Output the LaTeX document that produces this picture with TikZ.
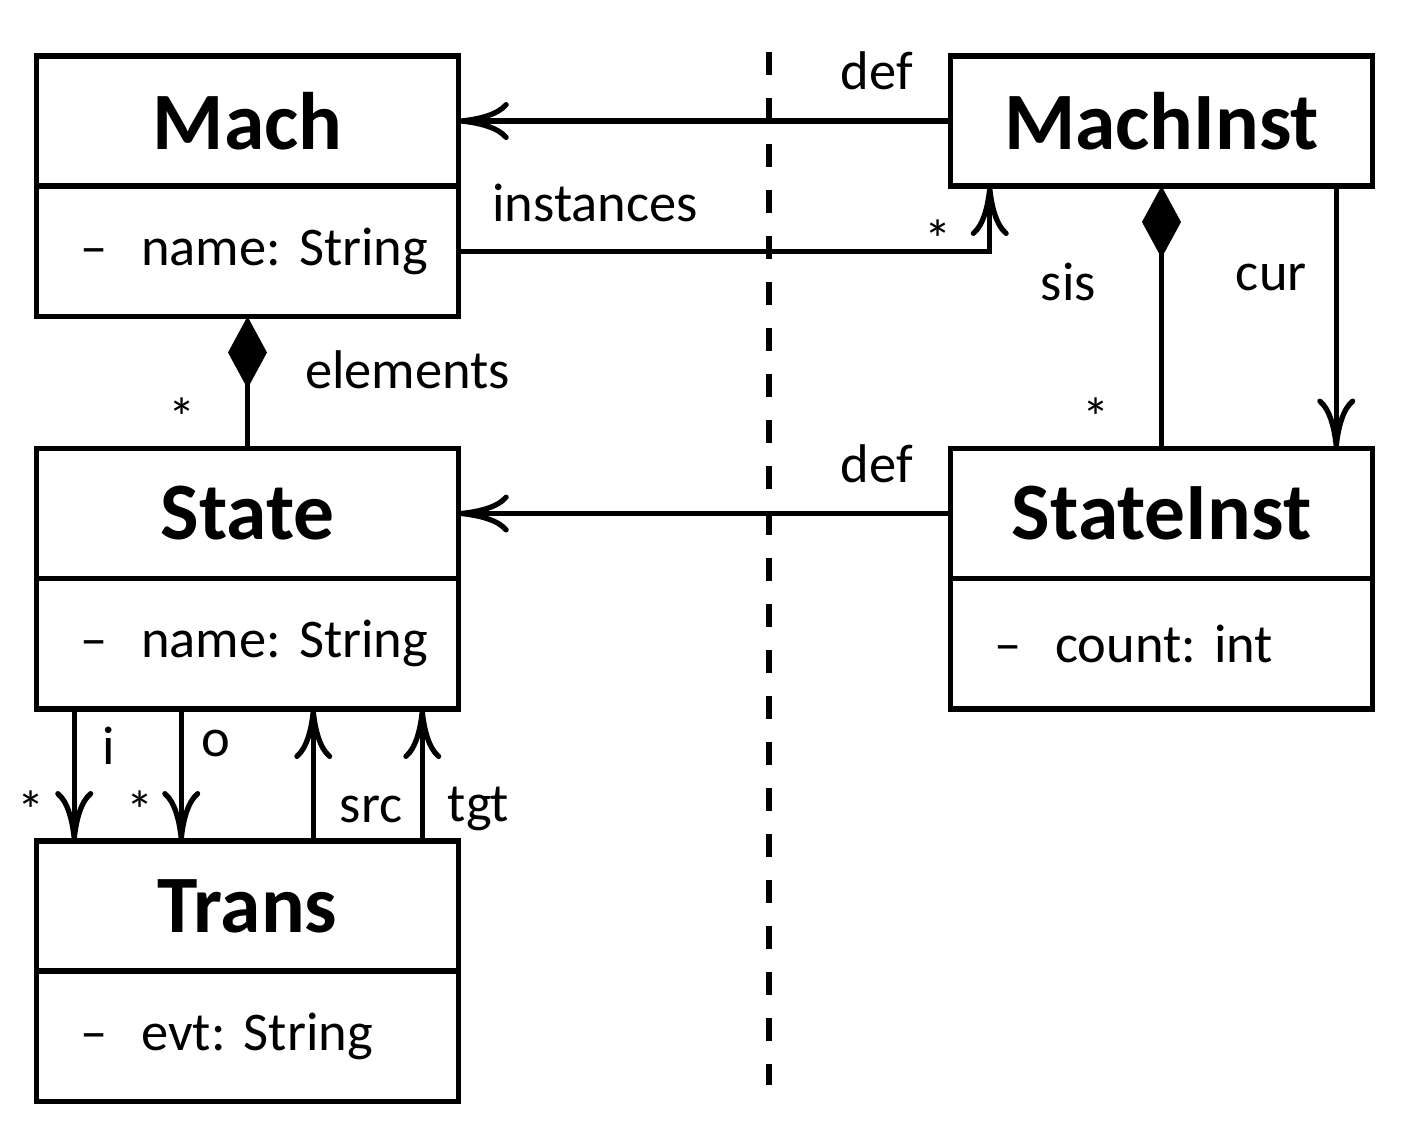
\documentclass[tikz,border=0pt]{standalone}
\usepackage{fontspec}
\setmainfont{Carlito}
\usepackage{tikz}
\usetikzlibrary{positioning,arrows.meta}

\frenchspacing
\newcommand{\vis}[1]{\mbox{--\hspace{0.62em}#1}}

\begin{document}
\begin{tikzpicture}[
node distance=1.32cm,
classbox/.style={
    rectangle,
    minimum width=4.225cm,
    minimum height=1.3cm,
    draw=black,
    line width=1.5pt,
    outer sep=0pt,
    font=\fontsize{23.2}{27}\selectfont\bfseries
},
attrbox/.style={
    rectangle,
    minimum width=4.225cm,
    minimum height=1.305cm,
    text width=3.345cm,
    inner xsep=0.44cm,
    align=left,
    draw=black,
    line width=1.5pt,
    outer sep=0pt,
    font=\fontsize{15.5}{18}\selectfont
},
lbl/.style={
    inner sep=0pt,
    font=\fontsize{15.5}{18}\selectfont
},
line/.style={
    -{To[length=5mm,width=3.8mm]},
    line width=1.5pt
},
comp/.style={
    {Diamond[length=7.2mm,width=3.9mm]}-,
    line width=1.5pt
},
divider/.style={
    line width=1.6pt,
    dash pattern=on 2.3mm off 2.3mm
}
]

\useasboundingbox (-2.475,1.21) rectangle (11.605,-10.15);

% Definitions
\node[classbox] (mach) {Mach};
\node[attrbox,below=0pt of mach] (mach-attr) {\vis{name: String}};

\node[classbox,below=of mach-attr] (state) {State};
\node[attrbox,below=0pt of state] (state-attr) {\vis{name: String}};

\node[classbox,below=of state-attr] (trans) {Trans};
\node[attrbox,below=0pt of trans] (trans-attr) {\vis{evt: String}};

% Instances
\node[classbox,right=4.915cm of mach] (machinst) {MachInst};

\node[classbox,right=4.915cm of state] (stateinst) {StateInst};
\node[attrbox,below=0pt of stateinst] (stateinst-attr) {\vis{count: int}};

% Divider
\coordinate (div-top) at (5.215,0.69);
\coordinate (div-bot) at (5.215,-9.64);
\draw[divider] (div-top) -- (div-bot);

% Connections
\draw[line] (machinst.west) -- node[lbl,pos=0,above left=2.85mm and 3.5mm] {def} (mach.east);
\draw[line] (stateinst.west) -- node[lbl,pos=0,above left=2.85mm and 3.5mm] {def} (state.east);

\draw[line] (mach-attr.east) -| node[lbl,pos=0,above right=2.7mm and 3.1mm] {instances}
    node[lbl,pos=0.5,above left=-1mm and 3.5mm] {*} ([xshift=3.95mm]machinst.south west);

\draw[comp] (mach-attr.south) -- node[lbl,pos=0.4,right=5.5mm] {elements}
    node[lbl,pos=0.76,left=4.9mm] {*} (state.north);

\draw[comp] (machinst.south) -- node[lbl,pos=0.364,left=6.3mm] {sis}
    node[lbl,pos=0.88,left=4.9mm] {*} (stateinst.north);
\draw[line] ([xshift=-3.65mm]machinst.south east) -- node[lbl,pos=0.35,left=2.7mm] {cur}
    ([xshift=-3.65mm]stateinst.north east);

\draw[line] ([xshift=3.8mm]state-attr.south west) -- node[lbl,pos=0.28,right=2.6mm] {i}
    node[lbl,pos=0.77,left=2.7mm] {*} ([xshift=3.8mm]trans.north west);
\draw[line] ([xshift=14.5mm]state-attr.south west) -- node[lbl,pos=0.26,right=1.8mm] {o}
    node[lbl,pos=0.77,left=2.5mm] {*} ([xshift=14.5mm]trans.north west);
\draw[line] ([xshift=27.7mm]trans.north west) -- node[lbl,pos=0.24,right=2.4mm] {src}
    ([xshift=27.7mm]state-attr.south west);
\draw[line] ([xshift=38.6mm]trans.north west) -- node[lbl,pos=0.24,right=2.3mm] {tgt}
    ([xshift=38.6mm]state-attr.south west);

\end{tikzpicture}
\end{document}
